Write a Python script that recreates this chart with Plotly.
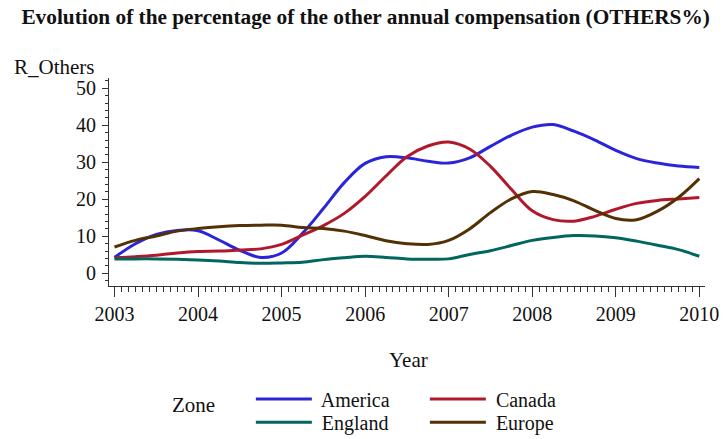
import plotly.graph_objects as go

# Year grid (quarterly points along the smoothed curves)
years = [2003.00, 2003.25, 2003.50, 2003.75, 2004.00, 2004.25, 2004.50, 2004.75,
         2005.00, 2005.25, 2005.50, 2005.75, 2006.00, 2006.25, 2006.50, 2006.75,
         2007.00, 2007.25, 2007.50, 2007.75, 2008.00, 2008.25, 2008.50, 2008.75,
         2009.00, 2009.25, 2009.50, 2009.75, 2010.00]

america = [4.3, 8.0, 10.5, 11.6, 11.5, 9.0, 6.2, 4.3,
           5.5, 10.8, 17.5, 24.5, 29.7, 31.5, 31.2, 30.3,
           29.8, 31.2, 34.3, 37.3, 39.5, 40.2, 38.4, 36.0,
           33.2, 31.0, 29.8, 29.0, 28.6]

canada = [4.2, 4.5, 4.9, 5.5, 5.9, 6.0, 6.3, 6.6,
          7.8, 10.3, 12.9, 16.2, 20.8, 26.3, 31.5, 34.4,
          35.5, 33.6, 28.9, 22.7, 16.9, 14.5, 14.1, 15.4,
          17.3, 18.9, 19.7, 20.1, 20.5]

england = [3.9, 3.9, 3.9, 3.8, 3.6, 3.3, 2.9, 2.7,
           2.8, 3.0, 3.7, 4.2, 4.6, 4.3, 3.9, 3.8,
           3.9, 5.1, 6.1, 7.5, 8.9, 9.7, 10.2, 10.1,
           9.6, 8.7, 7.6, 6.4, 4.6]

europe = [7.1, 8.9, 10.1, 11.4, 12.1, 12.6, 12.9, 13.0,
          13.0, 12.4, 12.1, 11.4, 10.2, 8.8, 8.0, 7.8,
          8.9, 12.0, 16.4, 20.1, 22.1, 21.3, 19.6, 17.0,
          14.8, 14.5, 16.8, 20.5, 25.6]

year_ticks = [2003, 2004, 2005, 2006, 2007, 2008, 2009, 2010]
value_ticks = [0, 10, 20, 30, 40, 50]

# name, values, colour, legend id, legend position (paper x, paper y)
zones = [
    ("America", america, "#2A25D9", "legend", (0.238, -0.543)),
    ("Canada", canada, "#B2182B", "legend2", (0.530, -0.543)),
    ("England", england, "#01665E", "legend3", (0.238, -0.655)),
    ("Europe", europe, "#543005", "legend4", (0.530, -0.655)),
]

SERIF = "Liberation Serif, Times New Roman, serif"
INK = "#111111"
AXIS = "#333333"

fig = go.Figure()
for name, vals, color, leg, _ in zones:
    fig.add_trace(go.Scatter(
        x=years, y=vals, name=" " + name, mode="lines",
        line=dict(color=color, width=3, shape="spline", smoothing=1),
        legend=leg, showlegend=True,
    ))

axis_common = dict(
    showline=True, linecolor=AXIS, linewidth=1,
    showgrid=False, zeroline=False,
    ticks="outside", tickcolor=AXIS, tickwidth=1,
    tickfont=dict(family=SERIF, size=20, color=INK),
)

fig.update_xaxes(
    range=[2002.934, 2010.068],
    tickvals=year_ticks, ticktext=[str(y) for y in year_ticks],
    ticklen=10, ticklabelstandoff=0,
    minor=dict(dtick=1 / 12, tick0=2003, ticks="outside", ticklen=5,
               tickcolor=AXIS, tickwidth=1),
    **axis_common,
)
fig.update_yaxes(
    range=[-3.43, 52.78],
    tickvals=value_ticks, ticklen=6, ticklabelstandoff=2,
    minor=dict(dtick=2, tick0=0, ticks="outside", ticklen=3,
               tickcolor=AXIS, tickwidth=1),
    **axis_common,
)

legend_common = dict(
    orientation="v", xanchor="left", yanchor="middle",
    font=dict(family=SERIF, size=20, color=INK),
    bgcolor="rgba(0,0,0,0)", itemwidth=56,
    itemclick=False, itemdoubleclick=False,
)
legends = {leg: dict(x=pos[0], y=pos[1], **legend_common)
           for _, _, _, leg, pos in zones}

fig.update_layout(
    width=724, height=439,
    showlegend=True,
    margin=dict(l=109, r=19, t=78, b=153, autoexpand=False),
    paper_bgcolor="white", plot_bgcolor="white",
    title=dict(
        text="<b>Evolution of the percentage of the other annual compensation (OTHERS%)</b>",
        x=0.505, xref="container", xanchor="center", y=0.962, yanchor="middle",
        font=dict(family=SERIF, size=21.3, color=INK),
    ),
    annotations=[
        dict(text="R_Others", xref="paper", yref="paper", x=-0.162, y=1.053,
             xanchor="left", yanchor="middle", showarrow=False,
             font=dict(family=SERIF, size=21, color=INK)),
        dict(text="Year", xref="paper", yref="paper", x=0.502, y=-0.355,
             xanchor="center", yanchor="middle", showarrow=False,
             font=dict(family=SERIF, size=21, color=INK)),
        dict(text="Zone", xref="paper", yref="paper", x=0.102, y=-0.570,
             xanchor="left", yanchor="middle", showarrow=False,
             font=dict(family=SERIF, size=21, color=INK)),
    ],
    **legends,
)

fig.write_html("out.html")
